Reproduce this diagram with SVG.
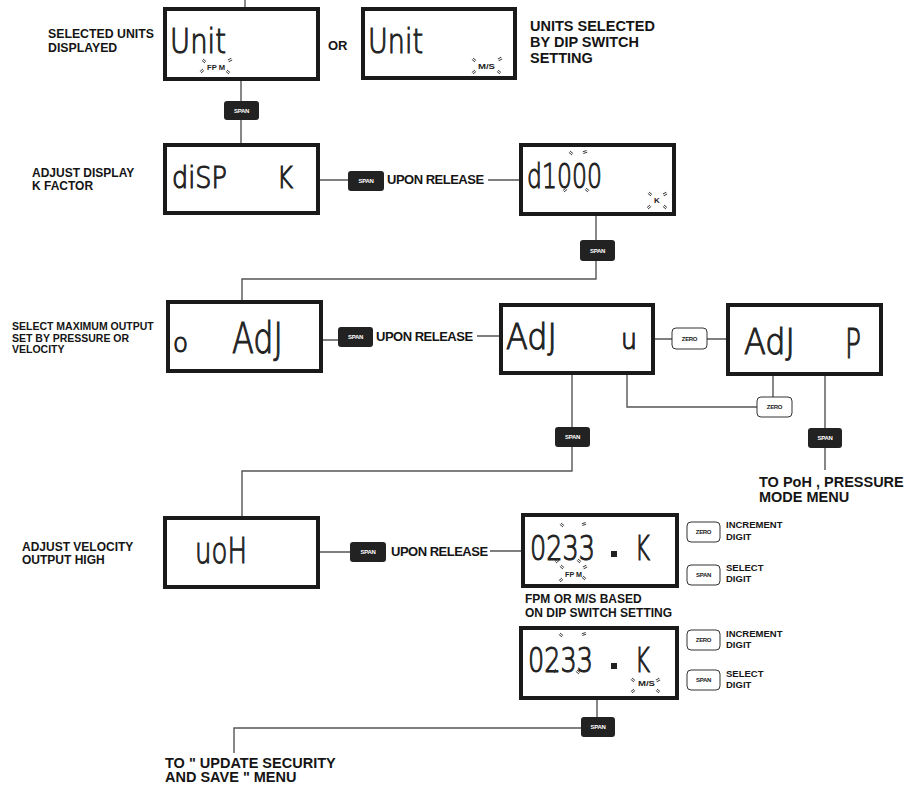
<svg xmlns="http://www.w3.org/2000/svg" xmlns:xlink="http://www.w3.org/1999/xlink" width="912" height="791" viewBox="0 0 912 791">
<style>
.box{fill:#fff;stroke:#1a1a1a;stroke-width:4}
.ln{stroke:#555;stroke-width:1.4;fill:none}
.bk{fill:#222}
.wb{fill:#fff;stroke:#333;stroke-width:1}
.lbl{font-family:"Liberation Sans",Arial,sans-serif;font-weight:bold;fill:#151515}
.bt{font-family:"Liberation Sans",Arial,sans-serif;font-weight:bold;font-size:6px;text-anchor:middle;letter-spacing:-0.3px}
.bw{fill:#fff}
.bb{fill:#222}
.lcd{font-family:"DejaVu Sans",sans-serif;font-weight:200;fill:#222;stroke:#222;stroke-width:1.1}
.ind{font-family:"Liberation Sans",Arial,sans-serif;font-weight:bold;fill:#222}
.tk{stroke:#333;stroke-width:0.9;fill:none}
</style>
<defs>
<path id="tk" class="tk" d="M-2,-0.9 h4 M-2,0.9 h4"/>
</defs>

<g id="connectors">
<path class="ln" d="M245,0 V7"/>
<path class="ln" d="M241,81 V101 M241,120 V143"/>
<path class="ln" d="M320,180 H348 M488,180 H519"/>
<path class="ln" d="M596,216 V240 M596,261 V279 H242 V300"/>
<path class="ln" d="M323,340 H338 M477,336 H499"/>
<path class="ln" d="M655,339 H672 M707,339 H726"/>
<path class="ln" d="M773,376 V397"/>
<path class="ln" d="M627,375 V407 H757"/>
<path class="ln" d="M572,375 V427 M572,447 V471 H242 V516"/>
<path class="ln" d="M825,376 V428 M825,448 V470"/>
<path class="ln" d="M320,552 H350 M490,551 H521"/>
<path class="ln" d="M597,700 V717 M581,728 H234 V753"/>
</g>

<g id="unit-fpm">
<rect class="box" x="165" y="9" width="153" height="70"/>
<text class="lcd" x="170" y="53" font-size="34" textLength="56" lengthAdjust="spacingAndGlyphs">Unit</text>
<text class="ind" x="207" y="70" font-size="8" textLength="18" lengthAdjust="spacingAndGlyphs">FP M</text>
<use href="#tk" transform="translate(204,61) rotate(40)"/>
<use href="#tk" transform="translate(230,60) rotate(-30)"/>
<use href="#tk" transform="translate(202,71) rotate(-40)"/>
<use href="#tk" transform="translate(228,72) rotate(40)"/>
</g>
<g id="unit-ms">
<rect class="box" x="363" y="9" width="152" height="69"/>
<text class="lcd" x="368" y="53" font-size="34" textLength="55" lengthAdjust="spacingAndGlyphs">Unit</text>
<text class="ind" x="478" y="69" font-size="7" textLength="17" lengthAdjust="spacingAndGlyphs">M/S</text>
<use href="#tk" transform="translate(474,60) rotate(40)"/>
<use href="#tk" transform="translate(500,59) rotate(-30)"/>
<use href="#tk" transform="translate(474,72) rotate(-40)"/>
<use href="#tk" transform="translate(499,72) rotate(40)"/>
</g>

<g id="disp-k">
<rect class="box" x="165" y="145" width="153" height="68"/>
<text class="lcd" x="172" y="188" font-size="30" textLength="55" lengthAdjust="spacingAndGlyphs">diSP</text>
<text class="lcd" x="277" y="188" font-size="30" textLength="16" lengthAdjust="spacingAndGlyphs">K</text>
</g>

<g id="d1000">
<rect class="box" x="521" y="145" width="153" height="69"/>
<text class="lcd" x="527" y="188" font-size="34" textLength="75" lengthAdjust="spacingAndGlyphs">d1000</text>
<use href="#tk" transform="translate(571,153) rotate(40)"/>
<use href="#tk" transform="translate(585,152) rotate(-20)"/>
<use href="#tk" transform="translate(565,190) rotate(-40)"/>
<use href="#tk" transform="translate(587,190) rotate(40)"/>
<text class="ind" x="654" y="203" font-size="8">K</text>
<use href="#tk" transform="translate(650,194) rotate(40)"/>
<use href="#tk" transform="translate(665,194) rotate(-30)"/>
<use href="#tk" transform="translate(649,207) rotate(-40)"/>
<use href="#tk" transform="translate(665,207) rotate(40)"/>
</g>

<g id="o-adj">
<rect class="box" x="168" y="302" width="153" height="69"/>
<text class="lcd" x="173" y="352" font-size="26" textLength="15" lengthAdjust="spacingAndGlyphs">o</text>
<text class="lcd" x="232" y="353" font-size="42" textLength="51" lengthAdjust="spacingAndGlyphs">AdJ</text>
</g>

<g id="adj-u">
<rect class="box" x="501" y="305" width="152" height="68"/>
<text class="lcd" x="506" y="349" font-size="36" textLength="51" lengthAdjust="spacingAndGlyphs">AdJ</text>
<text class="lcd" x="621" y="349" font-size="28" textLength="16" lengthAdjust="spacingAndGlyphs">u</text>
</g>

<g id="adj-p">
<rect class="box" x="728" y="305" width="153" height="69"/>
<text class="lcd" x="744" y="354" font-size="36" textLength="51" lengthAdjust="spacingAndGlyphs">AdJ</text>
<text class="lcd" x="845" y="358" font-size="40" textLength="16" lengthAdjust="spacingAndGlyphs">P</text>
</g>

<g id="uoh">
<rect class="box" x="165" y="518" width="153" height="69"/>
<text class="lcd" x="195" y="563" font-size="36" textLength="52" lengthAdjust="spacingAndGlyphs">uoH</text>
</g>

<g id="v-fpm">
<rect class="box" x="523" y="515" width="154" height="71"/>
<text class="lcd" x="530" y="560" font-size="34" textLength="65" lengthAdjust="spacingAndGlyphs">0233</text>
<rect x="611" y="551" width="6" height="6" class="bk"/>
<text class="lcd" x="635" y="560" font-size="34" textLength="15" lengthAdjust="spacingAndGlyphs">K</text>
<use href="#tk" transform="translate(562,525) rotate(40)"/>
<use href="#tk" transform="translate(584,524) rotate(-20)"/>
<use href="#tk" transform="translate(557,561) rotate(-40)"/>
<use href="#tk" transform="translate(579,561) rotate(40)"/>
<text class="ind" x="565" y="577" font-size="8" textLength="17" lengthAdjust="spacingAndGlyphs">FP M</text>
<use href="#tk" transform="translate(562,567) rotate(40)"/>
<use href="#tk" transform="translate(585,567) rotate(-30)"/>
<use href="#tk" transform="translate(561,580) rotate(-40)"/>
<use href="#tk" transform="translate(584,578) rotate(40)"/>
</g>
<g id="v-fpm-keys">
<rect class="wb" x="687" y="522" width="33" height="20" rx="4"/>
<text class="bt bb" x="703.5" y="534">ZERO</text>
<text class="lbl" x="726" y="528" font-size="9.5">INCREMENT</text>
<text class="lbl" x="726" y="540" font-size="9.5">DIGIT</text>
<rect class="wb" x="687" y="565" width="33" height="20" rx="4"/>
<text class="bt bb" x="703.5" y="577">SPAN</text>
<text class="lbl" x="726" y="571" font-size="9.5">SELECT</text>
<text class="lbl" x="726" y="582" font-size="9.5">DIGIT</text>
</g>

<g id="v-ms">
<rect class="box" x="521" y="628" width="156" height="70"/>
<text class="lcd" x="528" y="672" font-size="34" textLength="65" lengthAdjust="spacingAndGlyphs">0233</text>
<rect x="611" y="663" width="6" height="6" class="bk"/>
<text class="lcd" x="635" y="672" font-size="34" textLength="15" lengthAdjust="spacingAndGlyphs">K</text>
<use href="#tk" transform="translate(561,635) rotate(40)"/>
<use href="#tk" transform="translate(584,634) rotate(-20)"/>
<use href="#tk" transform="translate(555,671) rotate(-40)"/>
<use href="#tk" transform="translate(578,672) rotate(40)"/>
<text class="ind" x="638" y="686" font-size="7.5" textLength="17" lengthAdjust="spacingAndGlyphs">M/S</text>
<use href="#tk" transform="translate(633,680) rotate(40)"/>
<use href="#tk" transform="translate(658,680) rotate(-30)"/>
<use href="#tk" transform="translate(633,691) rotate(-40)"/>
<use href="#tk" transform="translate(658,691) rotate(40)"/>
</g>
<g id="v-ms-keys">
<rect class="wb" x="687" y="630" width="33" height="20" rx="4"/>
<text class="bt bb" x="703.5" y="642">ZERO</text>
<text class="lbl" x="726" y="637" font-size="9.5">INCREMENT</text>
<text class="lbl" x="726" y="648" font-size="9.5">DIGIT</text>
<rect class="wb" x="687" y="670" width="33" height="20" rx="4"/>
<text class="bt bb" x="703.5" y="682">SPAN</text>
<text class="lbl" x="726" y="677" font-size="9.5">SELECT</text>
<text class="lbl" x="726" y="688" font-size="9.5">DIGIT</text>
</g>

<g id="buttons">
<rect class="bk" x="224" y="101" width="35" height="19" rx="3"/><text class="bt bw" x="241.5" y="112.5">SPAN</text>
<rect class="bk" x="348" y="171" width="36" height="20" rx="3"/><text class="bt bw" x="366" y="183">SPAN</text>
<rect class="bk" x="580" y="240" width="35" height="21" rx="3"/><text class="bt bw" x="597.5" y="252.5">SPAN</text>
<rect class="bk" x="338" y="327" width="35" height="20" rx="3"/><text class="bt bw" x="355.5" y="339">SPAN</text>
<rect class="wb" x="672" y="328" width="35" height="21" rx="4"/><text class="bt bb" x="689.5" y="340.5">ZERO</text>
<rect class="wb" x="757" y="397" width="35" height="20" rx="4"/><text class="bt bb" x="774.5" y="409">ZERO</text>
<rect class="bk" x="555" y="427" width="35" height="20" rx="3"/><text class="bt bw" x="572.5" y="439">SPAN</text>
<rect class="bk" x="808" y="428" width="34" height="20" rx="3"/><text class="bt bw" x="825" y="440">SPAN</text>
<rect class="bk" x="350" y="542" width="36" height="20" rx="3"/><text class="bt bw" x="368" y="554">SPAN</text>
<rect class="bk" x="581" y="717" width="34" height="20" rx="3"/><text class="bt bw" x="598" y="729">SPAN</text>
</g>

<g id="labels">
<text class="lbl" x="48" y="38" font-size="12.3">SELECTED UNITS</text>
<text class="lbl" x="48" y="52" font-size="12.3">DISPLAYED</text>
<text class="lbl" x="328" y="50" font-size="13">OR</text>
<text class="lbl" x="530" y="31" font-size="14.5">UNITS SELECTED</text>
<text class="lbl" x="530" y="47" font-size="14.5">BY DIP SWITCH</text>
<text class="lbl" x="530" y="63" font-size="14.5">SETTING</text>
<text class="lbl" x="32" y="177" font-size="12">ADJUST DISPLAY</text>
<text class="lbl" x="32" y="190" font-size="12">K FACTOR</text>
<text class="lbl" x="387" y="184" font-size="13" letter-spacing="-0.5">UPON RELEASE</text>
<text class="lbl" x="12" y="330" font-size="10.5">SELECT MAXIMUM OUTPUT</text>
<text class="lbl" x="12" y="342" font-size="10.5">SET BY  PRESSURE OR</text>
<text class="lbl" x="12" y="353" font-size="10.5">VELOCITY</text>
<text class="lbl" x="376" y="341" font-size="13" letter-spacing="-0.5">UPON RELEASE</text>
<text class="lbl" x="759" y="487" font-size="14.5">TO PoH  , PRESSURE</text>
<text class="lbl" x="759" y="502" font-size="14.5">MODE MENU</text>
<text class="lbl" x="22" y="551" font-size="12">ADJUST VELOCITY</text>
<text class="lbl" x="22" y="564" font-size="12">OUTPUT HIGH</text>
<text class="lbl" x="391" y="556" font-size="13" letter-spacing="-0.5">UPON RELEASE</text>
<text class="lbl" x="525" y="603" font-size="12">FPM OR M/S BASED</text>
<text class="lbl" x="525" y="617" font-size="12">ON DIP SWITCH SETTING</text>
<text class="lbl" x="165" y="768" font-size="14.5">TO " UPDATE SECURITY</text>
<text class="lbl" x="165" y="782" font-size="14.5">AND SAVE " MENU</text>
</g>
</svg>
